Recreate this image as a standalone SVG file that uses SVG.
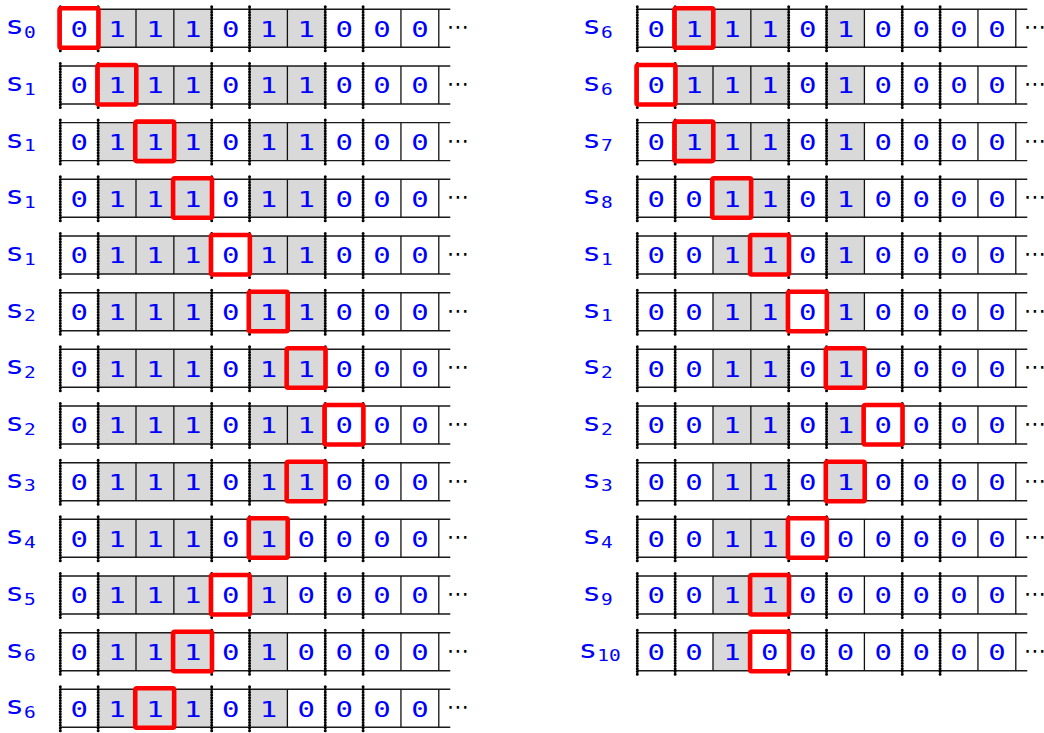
<svg xmlns="http://www.w3.org/2000/svg" width="1044" height="733" viewBox="0 0 1044 733">
<style>
.hl{stroke:#1a1a1a;stroke-width:1.4;fill:none}
.vl{stroke:#111;stroke-width:1.3;fill:none}
.dt{stroke:#000;stroke-width:3;stroke-linecap:round;stroke-dasharray:0 2.75;fill:none}
.sh{fill:#d9d9d9}
.hd{fill:none;stroke:#ff0000;stroke-width:4.6}
.d{font-family:"DejaVu Sans Mono",monospace;font-size:21px;fill:#0000ff;text-anchor:middle}
.s{font-family:"DejaVu Sans Mono",monospace;font-size:24px;fill:#0000ff}
.sb{font-size:15px}
.el{font-family:"DejaVu Sans",sans-serif;font-size:22px;fill:#000}
</style>
<defs>
<g id="grid">
<path class="hl" d="M0 0H390M0 38H390"/>
<path class="vl" d="M75.7 0V38M113.55 0V38M227.1 0V38M340.65 0V38M378.5 0V38"/>
<path class="dt" d="M0 -2.5V43.5M37.85 -2.5V43.5M151.4 -2.5V43.5M189.25 -2.5V43.5M264.95 -2.5V43.5M302.8 -2.5V43.5"/>
<text class="el" x="386.5" y="25">⋯</text>
</g>
<path id="shA" class="sh" d="M37.85 0h113.55v38h-113.55zM189.25 0h75.7v38h-75.7z"/>
<path id="shB" class="sh" d="M37.85 0h113.55v38h-113.55zM189.25 0h37.85v38h-37.85z"/>
<path id="shC" class="sh" d="M75.7 0h75.7v38h-75.7zM189.25 0h37.85v38h-37.85z"/>
<path id="shD" class="sh" d="M75.7 0h75.7v38h-75.7z"/>
<path id="shE" class="sh" d="M75.7 0h37.85v38h-37.85z"/>
</defs>

<g id="left">
<g id="L0" transform="translate(60.3 9.3)"><use href="#shA"/><use href="#grid"/><text class="s" transform="scale(1.3 1)" x="-42.4" y="25">s<tspan class="sb" dy="3.8">0</tspan></text><text class="d" transform="scale(1.38 1)" x="13.71 41.14 68.57 96 123.42 150.85 178.28 205.71 233.13 260.56" y="27.5">0111011000</text><rect class="hd" x="-0.75" y="-1" width="38.9" height="39.5" rx="1.5"/></g>
<g id="L1" transform="translate(60.3 66)"><use href="#shA"/><use href="#grid"/><text class="s" transform="scale(1.3 1)" x="-42.4" y="25">s<tspan class="sb" dy="3.8">1</tspan></text><text class="d" transform="scale(1.38 1)" x="13.71 41.14 68.57 96 123.42 150.85 178.28 205.71 233.13 260.56" y="27.5">0111011000</text><rect class="hd" x="37.1" y="-1" width="38.9" height="39.5" rx="1.5"/></g>
<g id="L2" transform="translate(60.3 122.6)"><use href="#shA"/><use href="#grid"/><text class="s" transform="scale(1.3 1)" x="-42.4" y="25">s<tspan class="sb" dy="3.8">1</tspan></text><text class="d" transform="scale(1.38 1)" x="13.71 41.14 68.57 96 123.42 150.85 178.28 205.71 233.13 260.56" y="27.5">0111011000</text><rect class="hd" x="74.95" y="-1" width="38.9" height="39.5" rx="1.5"/></g>
<g id="L3" transform="translate(60.3 179.3)"><use href="#shA"/><use href="#grid"/><text class="s" transform="scale(1.3 1)" x="-42.4" y="25">s<tspan class="sb" dy="3.8">1</tspan></text><text class="d" transform="scale(1.38 1)" x="13.71 41.14 68.57 96 123.42 150.85 178.28 205.71 233.13 260.56" y="27.5">0111011000</text><rect class="hd" x="112.8" y="-1" width="38.9" height="39.5" rx="1.5"/></g>
<g id="L4" transform="translate(60.3 236)"><use href="#shA"/><use href="#grid"/><text class="s" transform="scale(1.3 1)" x="-42.4" y="25">s<tspan class="sb" dy="3.8">1</tspan></text><text class="d" transform="scale(1.38 1)" x="13.71 41.14 68.57 96 123.42 150.85 178.28 205.71 233.13 260.56" y="27.5">0111011000</text><rect class="hd" x="150.65" y="-1" width="38.9" height="39.5" rx="1.5"/></g>
<g id="L5" transform="translate(60.3 292.7)"><use href="#shA"/><use href="#grid"/><text class="s" transform="scale(1.3 1)" x="-42.4" y="25">s<tspan class="sb" dy="3.8">2</tspan></text><text class="d" transform="scale(1.38 1)" x="13.71 41.14 68.57 96 123.42 150.85 178.28 205.71 233.13 260.56" y="27.5">0111011000</text><rect class="hd" x="188.5" y="-1" width="38.9" height="39.5" rx="1.5"/></g>
<g id="L6" transform="translate(60.3 349.3)"><use href="#shA"/><use href="#grid"/><text class="s" transform="scale(1.3 1)" x="-42.4" y="25">s<tspan class="sb" dy="3.8">2</tspan></text><text class="d" transform="scale(1.38 1)" x="13.71 41.14 68.57 96 123.42 150.85 178.28 205.71 233.13 260.56" y="27.5">0111011000</text><rect class="hd" x="226.35" y="-1" width="38.9" height="39.5" rx="1.5"/></g>
<g id="L7" transform="translate(60.3 406)"><use href="#shA"/><use href="#grid"/><text class="s" transform="scale(1.3 1)" x="-42.4" y="25">s<tspan class="sb" dy="3.8">2</tspan></text><text class="d" transform="scale(1.38 1)" x="13.71 41.14 68.57 96 123.42 150.85 178.28 205.71 233.13 260.56" y="27.5">0111011000</text><rect class="hd" x="264.2" y="-1" width="38.9" height="39.5" rx="1.5"/></g>
<g id="L8" transform="translate(60.3 462.7)"><use href="#shA"/><use href="#grid"/><text class="s" transform="scale(1.3 1)" x="-42.4" y="25">s<tspan class="sb" dy="3.8">3</tspan></text><text class="d" transform="scale(1.38 1)" x="13.71 41.14 68.57 96 123.42 150.85 178.28 205.71 233.13 260.56" y="27.5">0111011000</text><rect class="hd" x="226.35" y="-1" width="38.9" height="39.5" rx="1.5"/></g>
<g id="L9" transform="translate(60.3 519.3)"><use href="#shB"/><use href="#grid"/><text class="s" transform="scale(1.3 1)" x="-42.4" y="25">s<tspan class="sb" dy="3.8">4</tspan></text><text class="d" transform="scale(1.38 1)" x="13.71 41.14 68.57 96 123.42 150.85 178.28 205.71 233.13 260.56" y="27.5">0111010000</text><rect class="hd" x="188.5" y="-1" width="38.9" height="39.5" rx="1.5"/></g>
<g id="L10" transform="translate(60.3 576)"><use href="#shB"/><use href="#grid"/><text class="s" transform="scale(1.3 1)" x="-42.4" y="25">s<tspan class="sb" dy="3.8">5</tspan></text><text class="d" transform="scale(1.38 1)" x="13.71 41.14 68.57 96 123.42 150.85 178.28 205.71 233.13 260.56" y="27.5">0111010000</text><rect class="hd" x="150.65" y="-1" width="38.9" height="39.5" rx="1.5"/></g>
<g id="L11" transform="translate(60.3 632.7)"><use href="#shB"/><use href="#grid"/><text class="s" transform="scale(1.3 1)" x="-42.4" y="25">s<tspan class="sb" dy="3.8">6</tspan></text><text class="d" transform="scale(1.38 1)" x="13.71 41.14 68.57 96 123.42 150.85 178.28 205.71 233.13 260.56" y="27.5">0111010000</text><rect class="hd" x="112.8" y="-1" width="38.9" height="39.5" rx="1.5"/></g>
<g id="L12" transform="translate(60.3 689.3)"><use href="#shB"/><use href="#grid"/><text class="s" transform="scale(1.3 1)" x="-42.4" y="25">s<tspan class="sb" dy="3.8">6</tspan></text><text class="d" transform="scale(1.38 1)" x="13.71 41.14 68.57 96 123.42 150.85 178.28 205.71 233.13 260.56" y="27.5">0111010000</text><rect class="hd" x="74.95" y="-1" width="38.9" height="39.5" rx="1.5"/></g>
</g>

<g id="right">
<g id="R0" transform="translate(637.3 9.3)"><use href="#shB"/><use href="#grid"/><text class="s" transform="scale(1.3 1)" x="-42.4" y="25">s<tspan class="sb" dy="3.8">6</tspan></text><text class="d" transform="scale(1.38 1)" x="13.71 41.14 68.57 96 123.42 150.85 178.28 205.71 233.13 260.56" y="27.5">0111010000</text><rect class="hd" x="37.1" y="-1" width="38.9" height="39.5" rx="1.5"/></g>
<g id="R1" transform="translate(637.3 66)"><use href="#shB"/><use href="#grid"/><text class="s" transform="scale(1.3 1)" x="-42.4" y="25">s<tspan class="sb" dy="3.8">6</tspan></text><text class="d" transform="scale(1.38 1)" x="13.71 41.14 68.57 96 123.42 150.85 178.28 205.71 233.13 260.56" y="27.5">0111010000</text><rect class="hd" x="-0.75" y="-1" width="38.9" height="39.5" rx="1.5"/></g>
<g id="R2" transform="translate(637.3 122.6)"><use href="#shB"/><use href="#grid"/><text class="s" transform="scale(1.3 1)" x="-42.4" y="25">s<tspan class="sb" dy="3.8">7</tspan></text><text class="d" transform="scale(1.38 1)" x="13.71 41.14 68.57 96 123.42 150.85 178.28 205.71 233.13 260.56" y="27.5">0111010000</text><rect class="hd" x="37.1" y="-1" width="38.9" height="39.5" rx="1.5"/></g>
<g id="R3" transform="translate(637.3 179.3)"><use href="#shC"/><use href="#grid"/><text class="s" transform="scale(1.3 1)" x="-42.4" y="25">s<tspan class="sb" dy="3.8">8</tspan></text><text class="d" transform="scale(1.38 1)" x="13.71 41.14 68.57 96 123.42 150.85 178.28 205.71 233.13 260.56" y="27.5">0011010000</text><rect class="hd" x="74.95" y="-1" width="38.9" height="39.5" rx="1.5"/></g>
<g id="R4" transform="translate(637.3 236)"><use href="#shC"/><use href="#grid"/><text class="s" transform="scale(1.3 1)" x="-42.4" y="25">s<tspan class="sb" dy="3.8">1</tspan></text><text class="d" transform="scale(1.38 1)" x="13.71 41.14 68.57 96 123.42 150.85 178.28 205.71 233.13 260.56" y="27.5">0011010000</text><rect class="hd" x="112.8" y="-1" width="38.9" height="39.5" rx="1.5"/></g>
<g id="R5" transform="translate(637.3 292.7)"><use href="#shC"/><use href="#grid"/><text class="s" transform="scale(1.3 1)" x="-42.4" y="25">s<tspan class="sb" dy="3.8">1</tspan></text><text class="d" transform="scale(1.38 1)" x="13.71 41.14 68.57 96 123.42 150.85 178.28 205.71 233.13 260.56" y="27.5">0011010000</text><rect class="hd" x="150.65" y="-1" width="38.9" height="39.5" rx="1.5"/></g>
<g id="R6" transform="translate(637.3 349.3)"><use href="#shC"/><use href="#grid"/><text class="s" transform="scale(1.3 1)" x="-42.4" y="25">s<tspan class="sb" dy="3.8">2</tspan></text><text class="d" transform="scale(1.38 1)" x="13.71 41.14 68.57 96 123.42 150.85 178.28 205.71 233.13 260.56" y="27.5">0011010000</text><rect class="hd" x="188.5" y="-1" width="38.9" height="39.5" rx="1.5"/></g>
<g id="R7" transform="translate(637.3 406)"><use href="#shC"/><use href="#grid"/><text class="s" transform="scale(1.3 1)" x="-42.4" y="25">s<tspan class="sb" dy="3.8">2</tspan></text><text class="d" transform="scale(1.38 1)" x="13.71 41.14 68.57 96 123.42 150.85 178.28 205.71 233.13 260.56" y="27.5">0011010000</text><rect class="hd" x="226.35" y="-1" width="38.9" height="39.5" rx="1.5"/></g>
<g id="R8" transform="translate(637.3 462.7)"><use href="#shC"/><use href="#grid"/><text class="s" transform="scale(1.3 1)" x="-42.4" y="25">s<tspan class="sb" dy="3.8">3</tspan></text><text class="d" transform="scale(1.38 1)" x="13.71 41.14 68.57 96 123.42 150.85 178.28 205.71 233.13 260.56" y="27.5">0011010000</text><rect class="hd" x="188.5" y="-1" width="38.9" height="39.5" rx="1.5"/></g>
<g id="R9" transform="translate(637.3 519.3)"><use href="#shD"/><use href="#grid"/><text class="s" transform="scale(1.3 1)" x="-42.4" y="25">s<tspan class="sb" dy="3.8">4</tspan></text><text class="d" transform="scale(1.38 1)" x="13.71 41.14 68.57 96 123.42 150.85 178.28 205.71 233.13 260.56" y="27.5">0011000000</text><rect class="hd" x="150.65" y="-1" width="38.9" height="39.5" rx="1.5"/></g>
<g id="R10" transform="translate(637.3 576)"><use href="#shD"/><use href="#grid"/><text class="s" transform="scale(1.3 1)" x="-42.4" y="25">s<tspan class="sb" dy="3.8">9</tspan></text><text class="d" transform="scale(1.38 1)" x="13.71 41.14 68.57 96 123.42 150.85 178.28 205.71 233.13 260.56" y="27.5">0011000000</text><rect class="hd" x="112.8" y="-1" width="38.9" height="39.5" rx="1.5"/></g>
<g id="R11" transform="translate(637.3 632.7)"><use href="#shE"/><use href="#grid"/><text class="s" transform="scale(1.3 1)" x="-45.2" y="25">s<tspan class="sb" dy="3.8">10</tspan></text><text class="d" transform="scale(1.38 1)" x="13.71 41.14 68.57 96 123.42 150.85 178.28 205.71 233.13 260.56" y="27.5">0010000000</text><rect class="hd" x="112.8" y="-1" width="38.9" height="39.5" rx="1.5"/></g>
</g>
</svg>
